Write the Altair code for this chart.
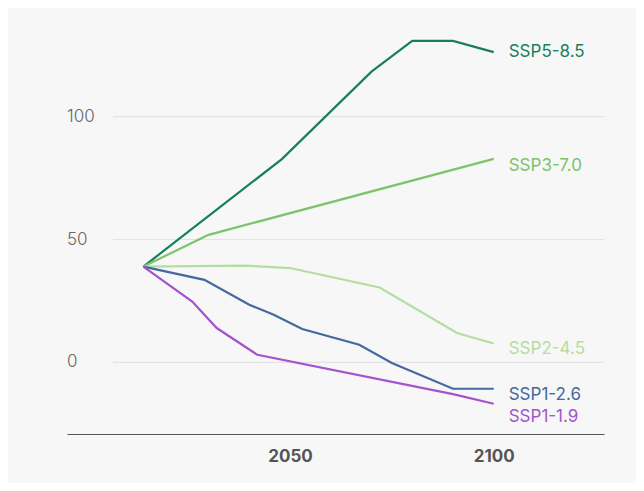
import altair as alt
import pandas as pd

# ---- data ----
series_names = ["SSP5-8.5", "SSP3-7.0", "SSP2-4.5", "SSP1-2.6", "SSP1-1.9"]
series_colors = ["#17805a", "#7cc36b", "#b4dea0", "#4468a0", "#a453cc"]

ssp585_years = [2014, 2048, 2070, 2080, 2090, 2100]
ssp585_vals = [39.0, 82.7, 118.3, 130.8, 130.8, 126.2]
ssp370_years = [2014, 2030, 2100]
ssp370_vals = [39.0, 51.9, 82.8]
ssp245_years = [2014, 2039, 2050, 2072, 2091, 2100]
ssp245_vals = [39.0, 39.4, 38.4, 30.5, 12.0, 7.7]
ssp126_years = [2014, 2029, 2040, 2046, 2053, 2067, 2075, 2090, 2100]
ssp126_vals = [39.0, 33.6, 23.5, 19.4, 13.6, 7.2, -0.2, -10.7, -10.7]
ssp119_years = [2014, 2026, 2032, 2042, 2090, 2100]
ssp119_vals = [39.0, 24.8, 14.0, 3.1, -12.9, -16.8]

y_ticks = [0, 50, 100]
x_ticks = [2050, 2100]

all_years = [ssp585_years, ssp370_years, ssp245_years, ssp126_years, ssp119_years]
all_vals = [ssp585_vals, ssp370_vals, ssp245_vals, ssp126_vals, ssp119_vals]

rows = []
for name, ys, vs in zip(series_names, all_years, all_vals):
    for i, (yr, v) in enumerate(zip(ys, vs)):
        rows.append({"series": name, "year": yr, "value": v, "order": i})
df = pd.DataFrame(rows)

ends = pd.DataFrame({
    "series": series_names,
    "year": [ys[-1] for ys in all_years],
    "value": [vs[-1] for vs in all_vals],
})
ticks_df = pd.DataFrame({"tick": y_ticks, "label": [str(t) for t in y_ticks]})

FONT = "Inter"
W, H = 537, 416
x_scale = alt.Scale(domain=[1995.26, 2127.07], nice=False, zero=False)
y_scale = alt.Scale(domain=[-29.1, 140.1], nice=False, zero=False)
color_scale = alt.Scale(domain=series_names, range=series_colors)

grid = alt.Chart(ticks_df).mark_rule(color="#e3e3e3", strokeWidth=1.2).encode(
    y=alt.Y("tick:Q", scale=y_scale, axis=None),
    x=alt.value(46),
    x2=alt.value(W),
)

ylabels = alt.Chart(ticks_df).mark_text(
    align="left", baseline="middle", font=FONT, fontSize=17, color="#666666", fontWeight=300
).encode(
    y=alt.Y("tick:Q", scale=y_scale, axis=None),
    x=alt.value(0),
    text="label:N",
)

lines = alt.Chart(df).mark_line(strokeWidth=2.2).encode(
    x=alt.X(
        "year:Q",
        scale=x_scale,
        axis=alt.Axis(
            values=x_ticks, format="d", title=None, grid=False, ticks=False,
            domainColor="#555555", domainWidth=1,
            labelFont=FONT, labelFontSize=17, labelFontWeight="bold",
            labelColor="#555555", labelPadding=14,
        ),
    ),
    y=alt.Y("value:Q", scale=y_scale, axis=None),
    color=alt.Color("series:N", scale=color_scale, legend=None),
    detail="series:N",
    order="order:Q",
)

label_dy = {"SSP5-8.5": 0, "SSP3-7.0": 7, "SSP2-4.5": 5, "SSP1-2.6": 6, "SSP1-1.9": 13}
label_layers = []
for name in series_names:
    label_layers.append(
        alt.Chart(ends[ends["series"] == name]).mark_text(
            align="left", baseline="middle", dx=15, dy=label_dy[name],
            font=FONT, fontSize=17, fontWeight=400,
        ).encode(
            x=alt.X("year:Q", scale=x_scale),
            y=alt.Y("value:Q", scale=y_scale),
            text="series:N",
            color=alt.Color("series:N", scale=color_scale, legend=None),
        )
    )

chart = alt.layer(grid, ylabels, lines, *label_layers).properties(
    width=W, height=H,
    background="#f7f7f7",
    padding={"left": 59, "top": 10, "right": 32, "bottom": 49},
    autosize=alt.AutoSizeParams(type="none"),
).configure_view(stroke=None)

chart.save("out.html", embed_options={"renderer": "svg", "actions": False})
